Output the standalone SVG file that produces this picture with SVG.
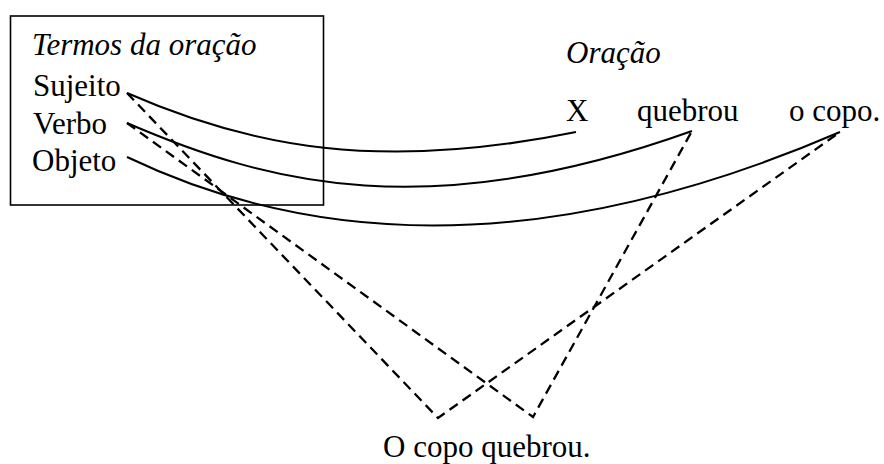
<svg xmlns="http://www.w3.org/2000/svg" width="884" height="464" viewBox="0 0 884 464">
<style>
text{font-family:'Liberation Serif','Times New Roman',Tinos,Times,serif;font-size:31px;fill:#000}
.it{font-style:italic}
.box{fill:none;stroke:#000;stroke-width:1.6}
.solid{fill:none;stroke:#000;stroke-width:2}
.dash{fill:none;stroke:#000;stroke-width:2.3;stroke-dasharray:10 6}
</style>
<rect width="884" height="464" fill="#fff"/>
<g id="termos">
<rect class="box" x="10.5" y="16" width="313" height="189"/>
<text class="it" x="32" y="55">Termos da oração</text>
</g>
<g id="sujeito"><text x="33" y="96">Sujeito</text></g>
<g id="verbo"><text x="33" y="134">Verbo</text></g>
<g id="objeto"><text x="32" y="171">Objeto</text></g>
<g id="oracao-titulo"><text class="it" x="566" y="63">Oração</text></g>
<g id="x"><text x="566" y="121">X</text></g>
<g id="quebrou"><text x="637" y="121">quebrou</text></g>
<g id="ocopo"><text x="789" y="121">o copo.</text></g>
<g id="ocopoquebrou"><text x="383" y="457">O copo quebrou.</text></g>
<g id="connectors">
<path class="solid" d="M127,93 C250,147 380,172 576,132"/>
<path class="solid" d="M127,123 C270,185 430,225 692,131"/>
<path class="solid" d="M127,157 C290,235 520,270 840,132"/>
<polyline class="dash" points="127,93 438,418 840,132"/>
<polyline class="dash" points="127,123 533,417 692,131"/>
</g>
</svg>
